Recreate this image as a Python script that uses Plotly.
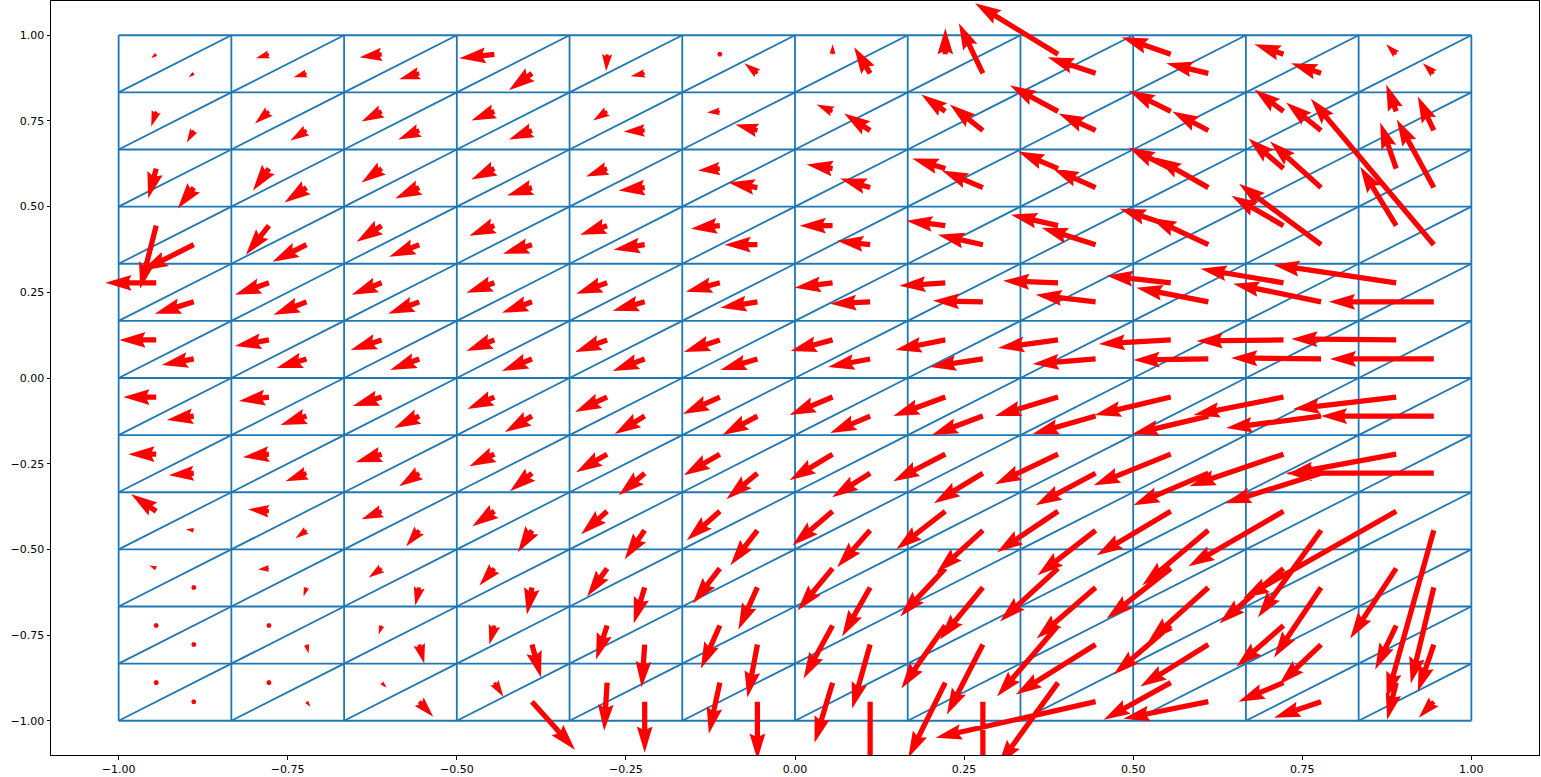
import math
import numpy as np
import plotly.graph_objects as go

# ---------------- data ----------------
# mesh node coordinates (12 x 12 cells, each split into two triangles)
MESH_X = [-1.0, -5/6, -4/6, -3/6, -2/6, -1/6, 0.0, 1/6, 2/6, 3/6, 4/6, 5/6, 1.0]
MESH_Y = [-1.0, -5/6, -4/6, -3/6, -2/6, -1/6, 0.0, 1/6, 2/6, 3/6, 4/6, 5/6, 1.0]

# vector field sampled at triangle centroids (rows bottom -> top, cols left -> right)
# components in arrow units (1 unit = 1 px of arrow length), U to the right, V upwards
# upper-left triangles
U_UPPER = [
    [0, 0, 5, 9, -3, -11, -18, -37, -60, -67, -45, -9],
    [0, -4, -3, -5, -11, -19, -29, -44, -61, -57, -47, -21],
    [-7, -11, -13, -15, -20, -27, -35, -45, -58, -64, -64, -46],
    [-25, -21, -20, -22, -26, -33, -40, -49, -61, -74, -95, -153],
    [-28, -26, -26, -25, -31, -36, -43, -52, -63, -77, -94, -109],
    [-33, -30, -29, -27, -32, -37, -43, -52, -63, -76, -90, -103],
    [-37, -34, -31, -28, -32, -36, -42, -50, -60, -72, -87, -105],
    [-51, -34, -30, -28, -31, -34, -38, -46, -55, -64, -83, -123],
    [-16, -23, -25, -25, -27, -29, -33, -39, -47, -51, -52, -36],
    [-8, -16, -20, -23, -21, -22, -26, -33, -40, -42, -35, -16],
    [-5, -14, -20, -23, -14, -13, -16, -24, -48, -42, -29, -10],
    [-5, -13, -22, -35, -1, 0, 0, 0, -83, -49, -29, -10],
]
V_UPPER = [
    [0, 0, -5, -14, -48, -51, -60, -75, -83, -37, -19, -37],
    [0, -3, -9, -19, -34, -43, -53, -63, -71, -49, -41, -44],
    [3, -1, -9, -17, -28, -35, -42, -48, -53, -50, -55, -70],
    [17, 2, -8, -15, -23, -29, -34, -38, -41, -44, -55, -87],
    [0, -3, -8, -12, -18, -21, -26, -27, -30, -31, -32, -20],
    [0, -4, -9, -12, -15, -17, -18, -19, -19, -18, -18, -12],
    [0, -6, -10, -11, -12, -12, -11, -10, -8, -4, -1, 1],
    [0, -12, -12, -10, -11, -9, -5, -3, 2, 7, 14, 18],
    [-63, -29, -16, -10, -9, -3, 0, 5, 11, 17, 30, 59],
    [-30, -22, -14, -11, -8, -2, 4, 10, 17, 21, 30, 46],
    [-15, -12, -10, -9, -9, -1, 7, 17, 26, 21, 22, 27],
    [-4, -4, -3, -4, -17, 0, 10, 26, 51, 17, 10, 10],
]
# lower-right triangles
U_LOWER = [
    [0, 4, 14, 43, 0, 0, 0, 0, -160, -85, -47, -15],
    [0, 2, 5, 9, -3, -10, -18, -36, -80, -68, -42, -16],
    [0, -3, -4, -5, -11, -19, -28, -43, -59, -60, -47, -23],
    [-8, -11, -13, -14, -20, -27, -33, -46, -58, -66, -63, -47],
    [-25, -21, -20, -22, -26, -31, -38, -49, -60, -75, -96, -148],
    [-27, -26, -25, -27, -30, -35, -40, -51, -63, -76, -95, -113],
    [-32, -30, -29, -30, -32, -37, -42, -53, -63, -75, -90, -104],
    [-39, -33, -31, -30, -32, -37, -40, -50, -60, -72, -88, -105],
    [-52, -34, -30, -29, -31, -33, -33, -45, -54, -58, -82, -123],
    [-16, -22, -24, -25, -26, -29, -30, -41, -43, -53, -51, -37],
    [-7, -16, -21, -23, -21, -22, -26, -33, -37, -36, -35, -16],
    [-5, -13, -20, -23, -14, -13, -16, -24, -48, -42, -30, -11],
]
V_LOWER = [
    [0, -5, -15, -48, -51, -58, -80, -85, -36, -17, -16, -16],
    [0, -9, -19, -33, -43, -53, -64, -70, -50, -42, -40, -47],
    [0, -9, -18, -27, -36, -42, -49, -52, -51, -54, -70, -96],
    [1, -8, -16, -22, -29, -35, -37, -42, -45, -55, -87, -168],
    [-2, -8, -13, -18, -22, -26, -24, -30, -32, -32, -30, 0],
    [-4, -9, -12, -16, -18, -19, -17, -19, -18, -18, -12, 0],
    [-6, -9, -11, -12, -12, -11, -8, -8, -5, -1, 1, 0],
    [-12, -13, -12, -11, -9, -6, -2, 1, 7, 14, 18, 0],
    [-26, -17, -12, -9, -5, 0, 4, 10, 17, 27, 61, 146],
    [-21, -15, -11, -8, -3, 5, 9, 17, 19, 30, 46, 68],
    [-12, -10, -9, -9, -1, 6, 17, 26, 17, 19, 28, 34],
    [-4, -4, -6, -17, -3, 10, 26, 50, 16, 10, 10, 10],
]

XTICKS = [-1.0, -0.75, -0.5, -0.25, 0.0, 0.25, 0.5, 0.75, 1.0]
YTICKS = [-1.0, -0.75, -0.5, -0.25, 0.0, 0.25, 0.5, 0.75, 1.0]
XTICK_TEXT = [f"{v:.2f}".replace("-", "\u2212") for v in XTICKS]
YTICK_TEXT = [f"{v:.2f}".replace("-", "\u2212") for v in YTICKS]

# ---------------- layout geometry ----------------
FIG_W, FIG_H = 1541, 777
M_L, M_R, M_T, M_B = 51, 2, 1, 22
X_RANGE = [-1.1, 1.1]
Y_RANGE = [-1.1, 1.1]
PLOT_W = FIG_W - M_L - M_R
PLOT_H = FIG_H - M_T - M_B
SX = PLOT_W / (X_RANGE[1] - X_RANGE[0])   # px per data unit (x)
SY = PLOT_H / (Y_RANGE[1] - Y_RANGE[0])   # px per data unit (y)

MESH_COLOR = "#1f77b4"
ARROW_COLOR = "#ff0000"

# ---------------- mesh edges ----------------
nx, ny = len(MESH_X), len(MESH_Y)
ex, ey = [], []
for j in range(ny):
    ex += [MESH_X[0], MESH_X[-1], None]
    ey += [MESH_Y[j], MESH_Y[j], None]
for i in range(nx):
    ex += [MESH_X[i], MESH_X[i], None]
    ey += [MESH_Y[0], MESH_Y[-1], None]
for j in range(ny - 1):
    for i in range(nx - 1):
        ex += [MESH_X[i], MESH_X[i + 1], None]
        ey += [MESH_Y[j], MESH_Y[j + 1], None]

# ---------------- arrows (matplotlib-quiver-like polygons) ----------------
N_ARROWS = 2 * (nx - 1) * (ny - 1)
SHAFT = 0.06 * PLOT_W / max(10.0, math.sqrt(N_ARROWS))   # shaft width in px
HEADWIDTH, HEADLENGTH, HEADAXISLENGTH, MINSHAFT, MINLENGTH = 3.0, 5.0, 4.5, 1.0, 1.0


def arrow_shape(u, v):
    """polygon offsets in px (x right, y up) for an arrow with tail at the origin"""
    length = math.hypot(u, v) / SHAFT
    if length < MINLENGTH:
        th = np.arange(0, 8) * (np.pi / 3.0)
        X = np.cos(th) * MINLENGTH * 0.5
        Y = np.sin(th) * MINLENGTH * 0.5
        ang = 0.0
    else:
        minsh = MINSHAFT * HEADLENGTH
        Yb = np.array([0.5, 0.5, HEADWIDTH * 0.5, 0.0, -HEADWIDTH * 0.5, -0.5, -0.5, 0.5])
        if length < minsh:
            s = length / minsh
            X = s * np.array([0, minsh - HEADAXISLENGTH, minsh - HEADLENGTH, minsh,
                              minsh - HEADLENGTH, minsh - HEADAXISLENGTH, 0, 0])
            Y = s * Yb
        else:
            X = np.array([0, length - HEADAXISLENGTH, length - HEADLENGTH, length,
                          length - HEADLENGTH, length - HEADAXISLENGTH, 0, 0])
            Y = Yb
        ang = math.atan2(v, u)
    c, s_ = math.cos(ang), math.sin(ang)
    Xr = (X * c - Y * s_) * SHAFT
    Yr = (X * s_ + Y * c) * SHAFT
    return Xr, Yr


ax_, ay_ = [], []
for j in range(ny - 1):
    for i in range(nx - 1):
        x0, x1 = MESH_X[i], MESH_X[i + 1]
        y0, y1 = MESH_Y[j], MESH_Y[j + 1]
        # upper-left triangle centroid and lower-right triangle centroid
        tails = [
            ((x0 + x1 + x0) / 3, (y0 + y1 + y1) / 3, U_UPPER[j][i], V_UPPER[j][i]),
            ((x0 + x1 + x1) / 3, (y0 + y0 + y1) / 3, U_LOWER[j][i], V_LOWER[j][i]),
        ]
        for tx, ty, u, v in tails:
            Xr, Yr = arrow_shape(u, v)
            ax_ += list(tx + Xr / SX) + [None]
            ay_ += list(ty + Yr / SY) + [None]

fig = go.Figure()
fig.add_trace(go.Scatter(x=ex, y=ey, mode="lines",
                         line=dict(color=MESH_COLOR, width=1.8),
                         hoverinfo="skip", showlegend=False))
fig.add_trace(go.Scatter(x=ax_, y=ay_, mode="lines", fill="toself",
                         fillcolor=ARROW_COLOR, line=dict(color=ARROW_COLOR, width=0),
                         hoverinfo="skip", showlegend=False))

axis_common = dict(
    showgrid=False, zeroline=False, showline=True, linecolor="black", linewidth=1,
    mirror=True, ticks="outside", ticklen=3.5, tickwidth=0.8, tickcolor="black",
    tickfont=dict(family="DejaVu Sans", size=11, color="black"),
)
fig.update_xaxes(range=X_RANGE, tickvals=XTICKS, ticktext=XTICK_TEXT, **axis_common)
fig.update_yaxes(range=Y_RANGE, tickvals=YTICKS, ticktext=YTICK_TEXT, **axis_common)
fig.update_layout(
    width=FIG_W, height=FIG_H,
    margin=dict(l=M_L, r=M_R, t=M_T, b=M_B, pad=0),
    paper_bgcolor="white", plot_bgcolor="white",
    showlegend=False,
)
fig.write_html("out.html")
